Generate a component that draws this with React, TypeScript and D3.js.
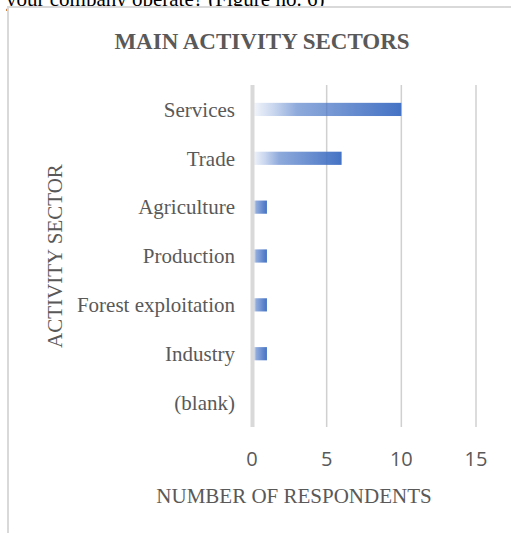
import React from "react";
import * as d3 from "d3";

const categories = ["Services", "Trade", "Agriculture", "Production", "Forest exploitation", "Industry", "(blank)"];
const values = [10, 6, 1, 1, 1, 1, 0];
const ticks = [0, 5, 10, 15];
const title = "MAIN ACTIVITY SECTORS";
const xTitle = "NUMBER OF RESPONDENTS";
const yTitle = "ACTIVITY SECTOR";
const caption = "your company operate? (Figure no. 6)";

const W = 511;
const H = 533;
const serif = "'Liberation Serif', 'Times New Roman', serif";
const sans = "'Open Sans', 'Liberation Sans', sans-serif";
const textColor = "#595959";

export default function App() {
  const x = d3.scaleLinear().domain([0, 15]).range([252, 476]);
  const y = d3
    .scaleBand<string>()
    .domain(categories)
    .range([85, 427])
    .paddingInner(0.73)
    .paddingOuter(0.365);
  const [y0, y1] = [85, 427];

  return (
    <svg
      width={W}
      height={H}
      style={{ position: "absolute", left: 0, top: 0, background: "#fff" }}
    >
      <defs>
        <linearGradient id="barGrad" x1="0" x2="1" y1="0" y2="0">
          <stop offset="0%" stopColor="#4472c4" stopOpacity={0.05} />
          <stop offset="15%" stopColor="#4472c4" stopOpacity={0.3} />
          <stop offset="30%" stopColor="#4472c4" stopOpacity={0.6} />
          <stop offset="100%" stopColor="#4472c4" stopOpacity={1} />
        </linearGradient>
      </defs>
      <text x={6} y={6} fontFamily={serif} fontSize={21} fill="#000">
        {caption}
      </text>
      <rect x={8} y={7} width={600} height={600} fill="#fff" stroke="#d9d9d9" strokeWidth={2} />
      <text
        x={262}
        y={49}
        textAnchor="middle"
        fontFamily={serif}
        fontWeight="bold"
        fontSize={23}
        fill={textColor}
      >
        {title}
      </text>
      {ticks.filter((t) => t !== 0).map((t) => (
        <line key={t} x1={x(t)} x2={x(t)} y1={y0} y2={y1} stroke="#d0d0d0" strokeWidth={1.5} />
      ))}
      {categories.map((c, i) =>
        values[i] > 0 ? (
          <rect
            key={c}
            x={x(0)}
            y={y(c)}
            width={x(values[i]) - x(0)}
            height={y.bandwidth()}
            fill="url(#barGrad)"
          />
        ) : null
      )}
      <line x1={x(0) + 0.5} x2={x(0) + 0.5} y1={y0} y2={y1} stroke="#d9d9d9" strokeWidth={4} />
      {categories.map((c) => (
        <text
          key={c}
          x={235}
          y={(y(c) ?? 0) + y.bandwidth() / 2}
          dy="0.35em"
          textAnchor="end"
          fontFamily={serif}
          fontSize={21}
          fill={textColor}
        >
          {c}
        </text>
      ))}
      {ticks.map((t) => (
        <text
          key={t}
          x={x(t)}
          y={466}
          textAnchor="middle"
          fontFamily={sans}
          fontSize={20}
          fill={textColor}
        >
          {t}
        </text>
      ))}
      <text x={294} y={503} textAnchor="middle" fontFamily={serif} fontSize={21} fill={textColor}>
        {xTitle}
      </text>
      <text
        transform={`translate(62,256) rotate(-90)`}
        textAnchor="middle"
        fontFamily={serif}
        fontSize={21}
        fill={textColor}
      >
        {yTitle}
      </text>
    </svg>
  );
}
